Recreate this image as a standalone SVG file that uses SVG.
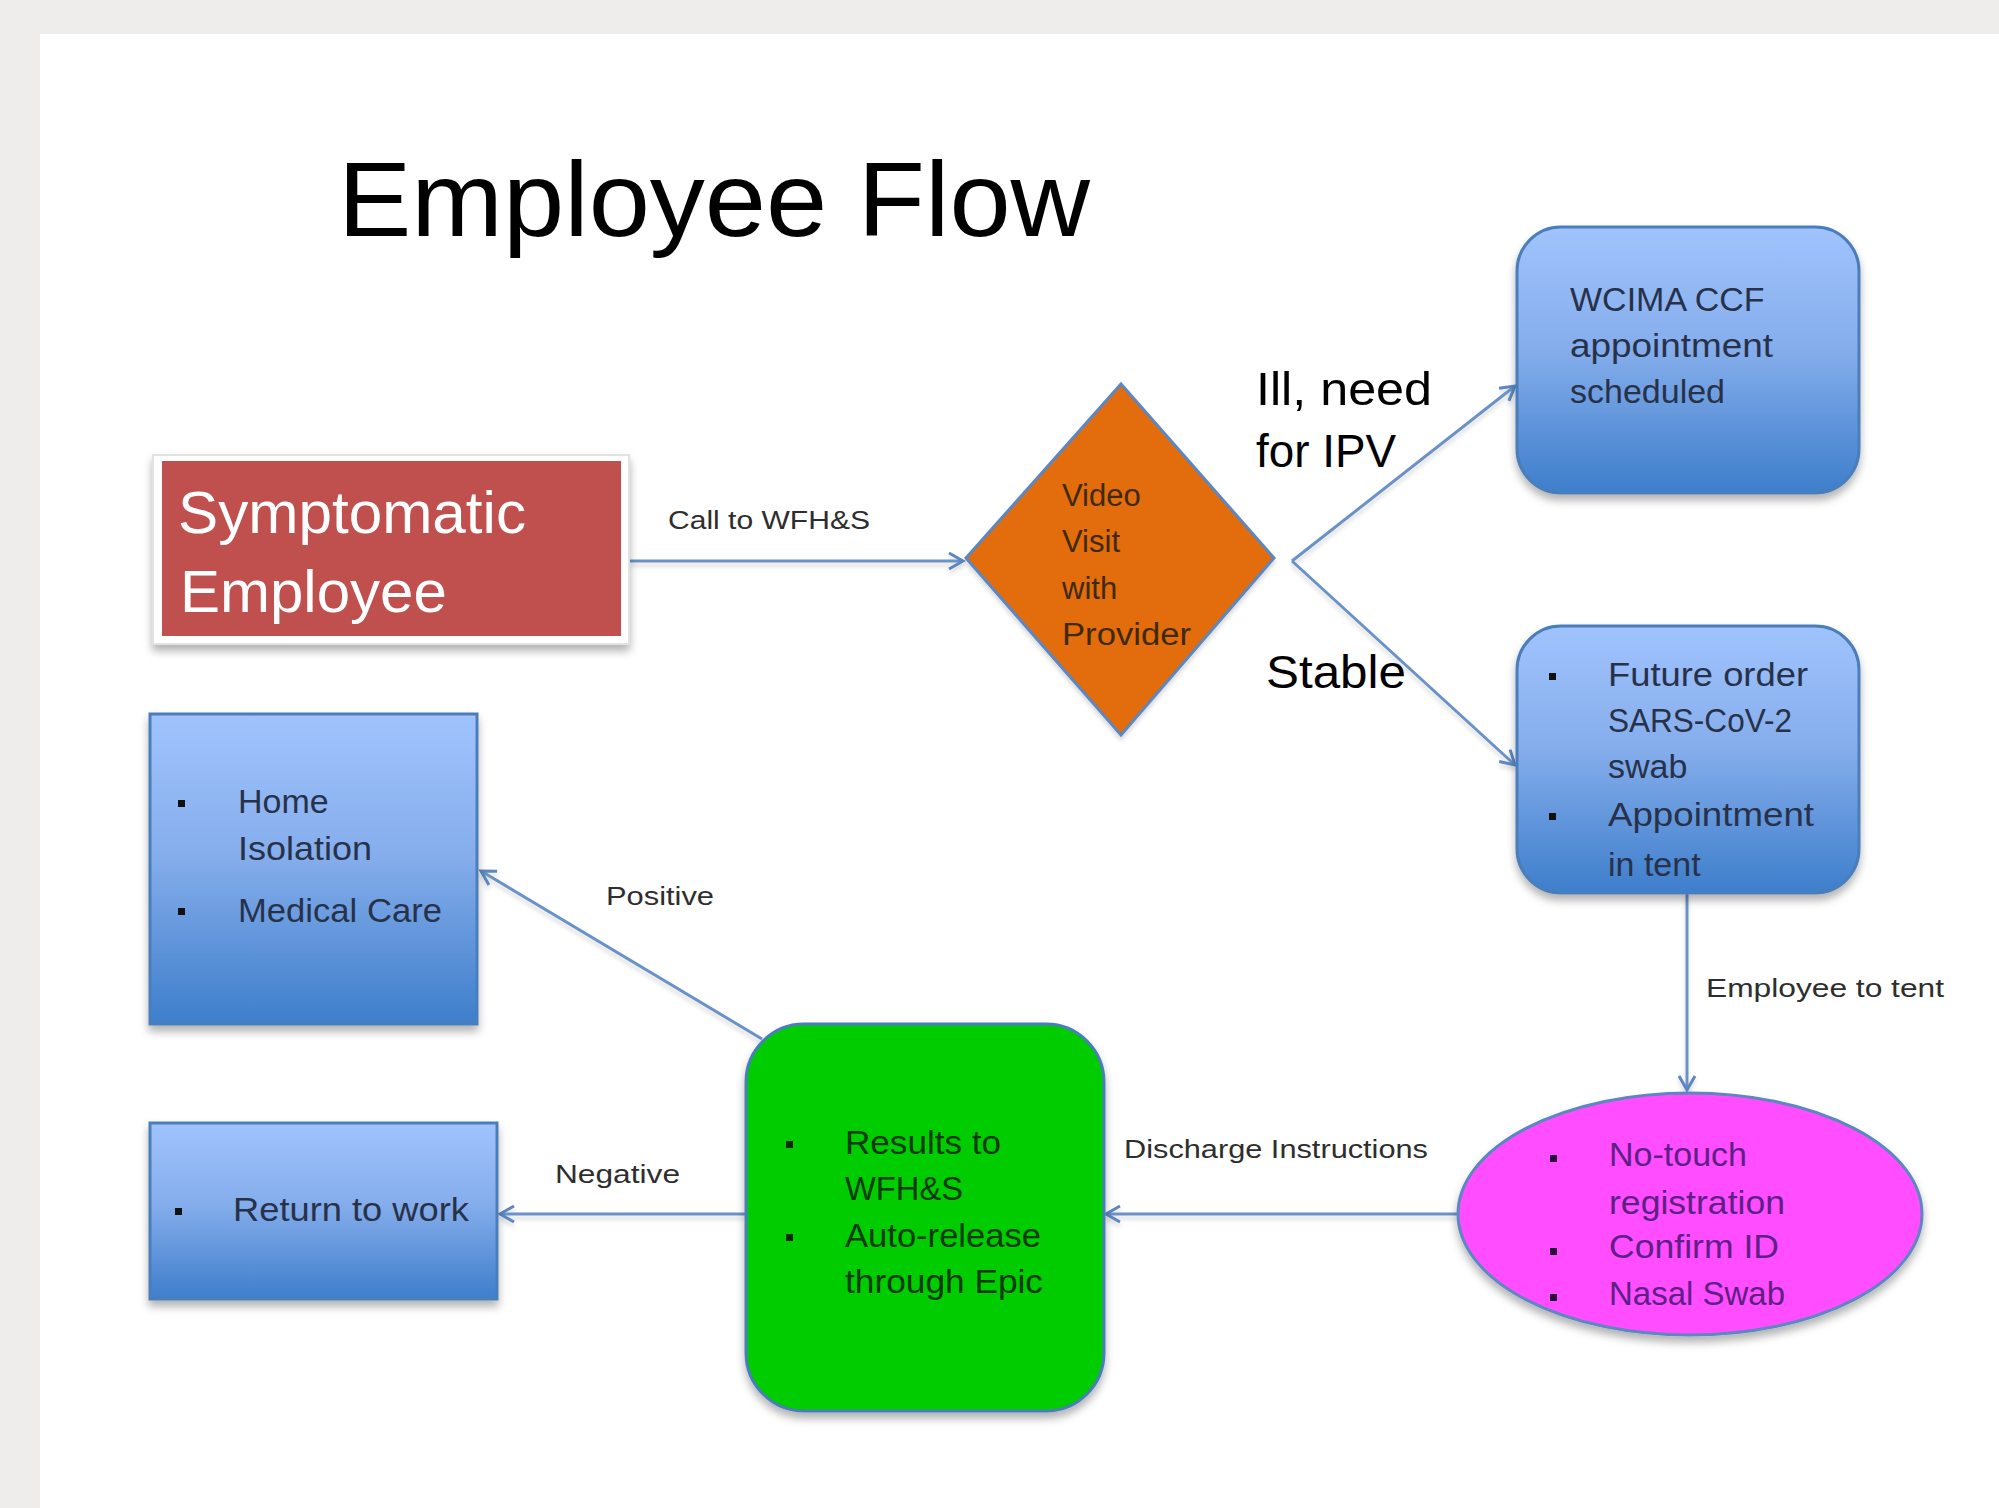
<svg xmlns="http://www.w3.org/2000/svg" width="1999" height="1508" viewBox="0 0 1999 1508">
<defs>
<linearGradient id="blueGrad" x1="0" y1="0" x2="0" y2="1">
<stop offset="0" stop-color="#A0C3FD"/>
<stop offset="0.45" stop-color="#86AEEC"/>
<stop offset="1" stop-color="#3E7ECB"/>
</linearGradient>
<filter id="shadow" x="-10%" y="-10%" width="120%" height="130%">
<feDropShadow dx="0" dy="6" stdDeviation="4" flood-color="#000" flood-opacity="0.3"/>
</filter>
<filter id="lshadow" x="-10%" y="-10%" width="120%" height="130%">
<feDropShadow dx="0" dy="4" stdDeviation="2" flood-color="#000" flood-opacity="0.15"/>
</filter>
<marker id="arrow" markerUnits="userSpaceOnUse" markerWidth="22" markerHeight="22" viewBox="0 0 22 22" refX="18" refY="11" orient="auto">
<path d="M4,3 L18,11 L4,19" fill="none" stroke="#5B87C0" stroke-width="3"/>
</marker>
<style>
.bg{fill:#EEEDEB}
.blue{fill:url(#blueGrad);stroke:#4A7EBB;stroke-width:3}
.bt{font-family:"Liberation Sans",Arial,sans-serif;font-size:34px;fill:#27324A}
.lbl{font-family:"Liberation Sans",Arial,sans-serif;font-size:26px;fill:#2E2E2E}
.big{font-family:"Liberation Sans",Arial,sans-serif;font-size:46px;fill:#000}
.conn{fill:none;stroke:#6A92C8;stroke-width:3;marker-end:url(#arrow)}
</style>
</defs>
<rect class="bg" x="0" y="0" width="1999" height="1508"/>
<rect x="40" y="34" width="1959" height="1474" fill="#FFFFFF"/>

<text id="title" x="338" y="236" font-family="'Liberation Sans',Arial,sans-serif" font-size="106" fill="#000" textLength="752" lengthAdjust="spacingAndGlyphs">Employee Flow</text>

<g id="connectors" filter="url(#lshadow)">
<line class="conn" x1="630" y1="561" x2="963" y2="561"/>
<line class="conn" x1="1292" y1="561" x2="1515" y2="386"/>
<line class="conn" x1="1292" y1="561" x2="1515" y2="765"/>
<line class="conn" x1="1687" y1="893" x2="1687" y2="1090"/>
<line class="conn" x1="1460" y1="1214" x2="1106" y2="1214"/>
<line class="conn" x1="762" y1="1039" x2="481" y2="871"/>
<line class="conn" x1="746" y1="1214" x2="500" y2="1214"/>
</g>

<g id="labels">
<text class="lbl" x="668" y="529" textLength="202" lengthAdjust="spacingAndGlyphs">Call to WFH&amp;S</text>
<text class="big" x="1256" y="405" textLength="176" lengthAdjust="spacingAndGlyphs">Ill, need</text>
<text class="big" x="1256" y="467" textLength="140" lengthAdjust="spacingAndGlyphs">for IPV</text>
<text class="big" x="1266" y="688" textLength="140" lengthAdjust="spacingAndGlyphs">Stable</text>
<text class="lbl" x="1706" y="997" textLength="238" lengthAdjust="spacingAndGlyphs">Employee to tent</text>
<text class="lbl" x="1124" y="1158" textLength="304" lengthAdjust="spacingAndGlyphs">Discharge Instructions</text>
<text class="lbl" x="606" y="905" textLength="108" lengthAdjust="spacingAndGlyphs">Positive</text>
<text class="lbl" x="555" y="1183" textLength="125" lengthAdjust="spacingAndGlyphs">Negative</text>
</g>

<g id="symptomatic">
<rect x="153" y="455" width="476" height="189" fill="#FFFFFF" stroke="#E2E2E2" stroke-width="2" filter="url(#shadow)"/>
<rect x="162" y="461" width="459" height="175" fill="#C0504D"/>
<text x="178" y="533" font-family="'Liberation Sans',Arial,sans-serif" font-size="60" fill="#FFFFFF" textLength="348" lengthAdjust="spacingAndGlyphs">Symptomatic</text>
<text x="180" y="612" font-family="'Liberation Sans',Arial,sans-serif" font-size="60" fill="#FFFFFF">Employee</text>
</g>

<g id="video-visit">
<polygon points="1121,384 1274,558 1121,735 966,558" fill="#E36C09" stroke="#5B87C0" stroke-width="3" filter="url(#lshadow)"/>
<text x="1062" y="506" font-family="'Liberation Sans',Arial,sans-serif" font-size="31" fill="#3F2A08">Video</text>
<text x="1062" y="552" font-family="'Liberation Sans',Arial,sans-serif" font-size="31" fill="#3F2A08">Visit</text>
<text x="1062" y="599" font-family="'Liberation Sans',Arial,sans-serif" font-size="31" fill="#3F2A08">with</text>
<text x="1062" y="645" font-family="'Liberation Sans',Arial,sans-serif" font-size="31" fill="#3F2A08" textLength="129" lengthAdjust="spacingAndGlyphs">Provider</text>
</g>

<g id="wcima">
<rect class="blue" x="1517" y="227" width="342" height="266" rx="44" ry="44" filter="url(#shadow)"/>
<text class="bt" x="1570" y="311">WCIMA CCF</text>
<text class="bt" x="1570" y="357" textLength="203" lengthAdjust="spacingAndGlyphs">appointment</text>
<text class="bt" x="1570" y="403">scheduled</text>
</g>

<g id="future-order">
<rect class="blue" x="1517" y="626" width="342" height="267" rx="44" ry="44" filter="url(#shadow)"/>
<rect x="1549" y="673" width="7" height="7" fill="#111"/>
<rect x="1549" y="813" width="7" height="7" fill="#111"/>
<text class="bt" x="1608" y="686" textLength="200" lengthAdjust="spacingAndGlyphs">Future order</text>
<text class="bt" x="1608" y="732" textLength="184" lengthAdjust="spacingAndGlyphs">SARS-CoV-2</text>
<text class="bt" x="1608" y="778">swab</text>
<text class="bt" x="1608" y="826" textLength="206" lengthAdjust="spacingAndGlyphs">Appointment</text>
<text class="bt" x="1608" y="876">in tent</text>
</g>

<g id="tent">
<ellipse cx="1690" cy="1214" rx="232" ry="121" fill="#FF4DFF" stroke="#5B87C0" stroke-width="3" filter="url(#shadow)"/>
<rect x="1550" y="1155" width="7" height="7" fill="#2A0A3A"/>
<rect x="1550" y="1248" width="7" height="7" fill="#2A0A3A"/>
<rect x="1550" y="1294" width="7" height="7" fill="#2A0A3A"/>
<text x="1609" y="1166" font-family="'Liberation Sans',Arial,sans-serif" font-size="34" fill="#5E1F86">No-touch</text>
<text x="1609" y="1214" font-family="'Liberation Sans',Arial,sans-serif" font-size="34" fill="#5E1F86" textLength="176" lengthAdjust="spacingAndGlyphs">registration</text>
<text x="1609" y="1258" font-family="'Liberation Sans',Arial,sans-serif" font-size="34" fill="#5E1F86" textLength="170" lengthAdjust="spacingAndGlyphs">Confirm ID</text>
<text x="1609" y="1305" font-family="'Liberation Sans',Arial,sans-serif" font-size="34" fill="#5E1F86" textLength="176" lengthAdjust="spacingAndGlyphs">Nasal Swab</text>
</g>

<g id="results">
<rect x="746" y="1024" width="358" height="387" rx="58" ry="58" fill="#00CC00" stroke="#4A7EBB" stroke-width="3" filter="url(#shadow)"/>
<rect x="786" y="1141" width="7" height="7" fill="#062A06"/>
<rect x="786" y="1234" width="7" height="7" fill="#062A06"/>
<text x="845" y="1154" font-family="'Liberation Sans',Arial,sans-serif" font-size="34" fill="#0A3A0A" textLength="156" lengthAdjust="spacingAndGlyphs">Results to</text>
<text x="845" y="1200" font-family="'Liberation Sans',Arial,sans-serif" font-size="34" fill="#0A3A0A" textLength="118" lengthAdjust="spacingAndGlyphs">WFH&amp;S</text>
<text x="845" y="1247" font-family="'Liberation Sans',Arial,sans-serif" font-size="34" fill="#0A3A0A" textLength="196" lengthAdjust="spacingAndGlyphs">Auto-release</text>
<text x="845" y="1293" font-family="'Liberation Sans',Arial,sans-serif" font-size="34" fill="#0A3A0A" textLength="198" lengthAdjust="spacingAndGlyphs">through Epic</text>
</g>

<g id="home-isolation">
<rect class="blue" x="150" y="714" width="327" height="310" filter="url(#shadow)"/>
<rect x="178" y="800" width="7" height="7" fill="#111"/>
<rect x="178" y="908" width="7" height="7" fill="#111"/>
<text class="bt" x="238" y="813">Home</text>
<text class="bt" x="238" y="860" textLength="134" lengthAdjust="spacingAndGlyphs">Isolation</text>
<text class="bt" x="238" y="922" textLength="204" lengthAdjust="spacingAndGlyphs">Medical Care</text>
</g>

<g id="return-to-work">
<rect class="blue" x="150" y="1123" width="347" height="176" filter="url(#shadow)"/>
<rect x="175" y="1208" width="7" height="7" fill="#111"/>
<text class="bt" x="233" y="1221" textLength="236" lengthAdjust="spacingAndGlyphs">Return to work</text>
</g>
</svg>
